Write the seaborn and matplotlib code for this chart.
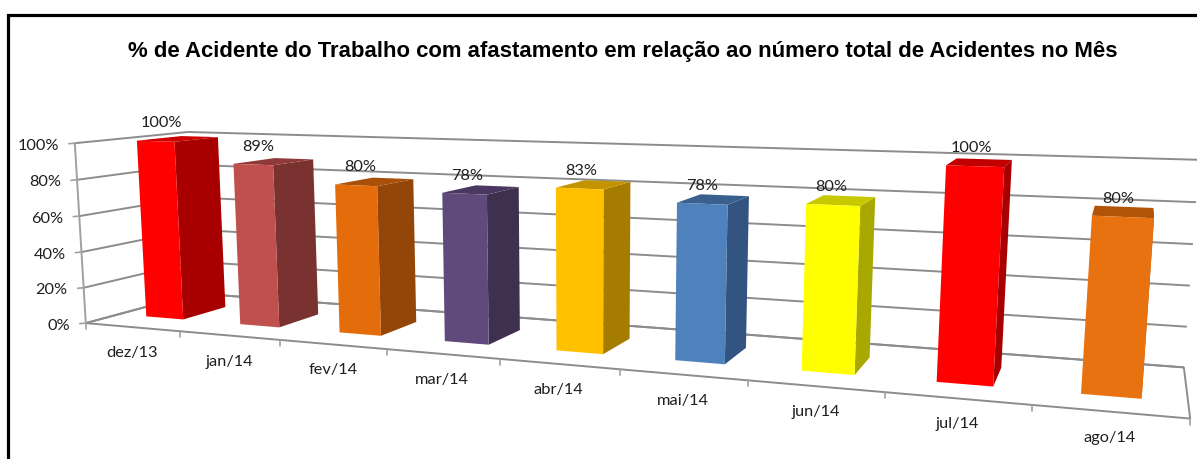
import numpy as np
import matplotlib
matplotlib.use("Agg")
import matplotlib.pyplot as plt
from matplotlib.patches import Polygon
from matplotlib.transforms import Affine2D, Transform
import seaborn as sns

# ---------- data ----------
months = ["dez/13", "jan/14", "fev/14", "mar/14", "abr/14", "mai/14", "jun/14", "jul/14", "ago/14"]
values = [100, 89, 80, 78, 83, 78, 80, 100, 80]
y_ticks = [0, 20, 40, 60, 80, 100]
title = "% de Acidente do Trabalho com afastamento em relação ao número total de Acidentes no Mês"

# ---------- colours ----------
front_colors = ["#FF0000", "#C0504D", "#E46C0A", "#604A7B", "#FFC000", "#4F81BD", "#FFFF00", "#FF0000", "#E8720F"]
side_colors = ["#A80000", "#7A3230", "#944608", "#3F3050", "#A67C00", "#335480", "#A8A800", "#A80000", "#A85008"]
top_colors = ["#CC0000", "#8F3A38", "#A85008", "#4A3860", "#C49400", "#3A6090", "#C8C800", "#C00000", "#B05408"]
GRID = "#8C8C8C"
TEXT = "#1F1F1F"

# ---------- camera: box corners (cell, value, depth) -> image pixels ----------
W, H = 1197, 460
box_world = [(0, 0, 0), (9, 0, 0), (9, 0, 1), (0, 100, 0), (0, 100, 1), (0, 0, 1), (9, 100, 1),
             (2, 0, 0), (4, 0, 0), (6, 0, 0), (8, 0, 0)]
box_image = [(87, 324), (1190, 419), (1184, 368), (74, 144), (189, 133), (195, 294.5), (1199, 161),
             (280, 342), (499, 358), (749, 382), (1032, 407)]


def solve_camera(world, image):
    rows = []
    for (x, y, z), (u, v) in zip(world, image):
        p = [x, y / 100, z, 1]
        rows.append(p + [0, 0, 0, 0] + [-u * c for c in p])
        rows.append([0, 0, 0, 0] + p + [-v * c for c in p])
    return np.linalg.svd(np.array(rows, float))[2][-1].reshape(3, 4)


CAM = solve_camera(box_world, box_image)


def project(x, y, z):
    x, y, z = np.broadcast_arrays(np.asarray(x, float), np.asarray(y, float), np.asarray(z, float))
    p = np.stack([x, y / 100, z, np.ones_like(x, dtype=float)], axis=-1) @ CAM.T
    return p[..., 0] / p[..., 2], p[..., 1] / p[..., 2]


class Perspective(Transform):
    """Category/value data of a plane of constant depth -> image pixels."""
    input_dims = output_dims = 2

    def __init__(self, plane_depth):
        super().__init__()
        self.plane_depth = plane_depth

    def transform_non_affine(self, values):
        v = np.asarray(values, float)
        return np.column_stack(project(v[:, 0] + 0.5, v[:, 1], self.plane_depth))


IMG = Affine2D().scale(1, -1).translate(0, H)

# ---------- figure ----------
sns.set_theme(style="white")
plt.rcParams["font.family"] = ["Lato", "DejaVu Sans"]
fig = plt.figure(figsize=(W / 100, H / 100), dpi=100, facecolor="white")
ax = fig.add_axes([0, 0, 1, 1])

BAR_WIDTH = 0.40
Z_FRONT, Z_BACK = 0.28, 0.68
LABEL_SIZE = 11.8
sns.barplot(x=months, y=values, hue=months, palette=front_colors, legend=False,
            width=BAR_WIDTH, saturation=1, ax=ax)
ax.axis("off")


def line(x, y, z, lw=1.4, color=GRID, zorder=1):
    px, py = project(x, y, z)
    ax.plot(px, py, color=color, lw=lw, transform=IMG, zorder=zorder, clip_on=False,
            solid_capstyle="butt")


n = len(months)
# walls, gridlines, floor
for t in y_ticks:
    line([0, 0, n], [t, t, t], [0, 1, 1])
line([0, 0], [0, 100], [0, 0], color="#A0A0A0")
line([0, n, n, 0], [0, 0, 0, 0], [1, 1, 0, 0], color=GRID)
line([0, 0], [0, 0], [0, 1], color=GRID)

# y ticks and labels
for t in y_ticks:
    px, py = project(0, t, 0)
    ax.plot([px - 6, px], [py + 0.5, py], color="#A0A0A0", lw=1.2, transform=IMG, clip_on=False)
    ax.text(px - 16, py + 1.5, f"{t}%", transform=IMG, ha="right", va="center", fontsize=LABEL_SIZE, color=TEXT)

# x ticks and labels
for i in range(n + 1):
    px, py = project(i, 0, 0)
    ax.plot([px, px], [py, py + 6], color="#A0A0A0", lw=1.2, transform=IMG, clip_on=False)
for i, m in enumerate(months):
    px, py = project(i + 0.5, 0, 0)
    ax.text(px, py + 25, m, transform=IMG, ha="center", va="center", fontsize=LABEL_SIZE, color=TEXT)

# bars: seaborn rectangles are re-projected, depth faces follow from their geometry
front_tf = Perspective(Z_FRONT) + IMG
bars = sorted(ax.patches, key=lambda r: r.get_x())
for i, r in enumerate(bars):
    x0 = r.get_x() + 0.5
    x1 = x0 + r.get_width()
    v = r.get_height()
    r.set_transform(front_tf)
    r.set_clip_on(False)
    r.set_linewidth(0)
    r.set_zorder(5 + i)
    side = np.column_stack(project([x1, x1, x1, x1], [0, v, v, 0], [Z_FRONT, Z_FRONT, Z_BACK, Z_BACK]))
    top = np.column_stack(project([x0, x1, x1, x0], [v, v, v, v], [Z_FRONT, Z_FRONT, Z_BACK, Z_BACK]))
    ax.add_patch(Polygon(side, closed=True, fc=side_colors[i], ec="none", transform=IMG, zorder=4.5 + i, clip_on=False))
    ax.add_patch(Polygon(top, closed=True, fc=top_colors[i], ec="none", transform=IMG, zorder=4.5 + i, clip_on=False))
    px, py = project((x0 + x1) / 2, v, Z_FRONT)
    ax.text(px + (702 - px) * 0.011, py - 19, f"{v:.0f}%", transform=IMG, ha="center", va="center",
            fontsize=LABEL_SIZE, color=TEXT, zorder=30)

ax.set_xlim(-0.5, n - 0.5)
ax.set_ylim(0, 100)

# title and screenshot frame
ax.text(623, 52, title, transform=IMG, ha="center", va="center", fontsize=15.95, fontweight="bold",
        family=["Liberation Sans", "DejaVu Sans"], color="black", zorder=30)
ax.plot([7.5, 7.5, W], [H, 15.5, 15.5], color="black", lw=2.3, transform=IMG, clip_on=False,
        solid_joinstyle="miter", zorder=40)

fig.savefig("out.png", dpi=100, facecolor="white")
